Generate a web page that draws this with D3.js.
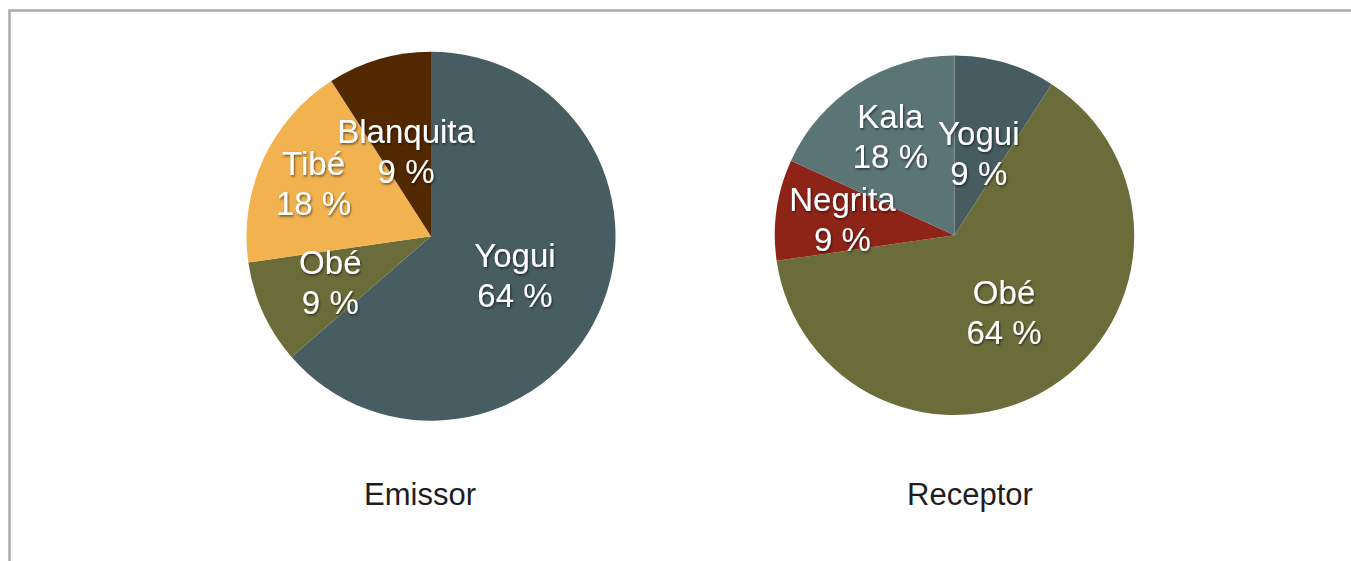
<!DOCTYPE html>
<html>
<head>
<meta charset="utf-8">
<script src="https://cdn.jsdelivr.net/npm/d3@7"></script>
<style>
  body { margin: 0; background: #fff; }
  text { font-family: "Liberation Sans", Arial, Helvetica, sans-serif; }
</style>
</head>
<body>
<div id="chart"></div>
<script>
// Data
var emissorNames = ["Yogui", "Obé", "Tibé", "Blanquita"];
var emissorValues = [7, 1, 2, 1];
var emissorColors = ["#475d61", "#6a6d3a", "#f1b24f", "#522800"];

var receptorNames = ["Yogui", "Obé", "Negrita", "Kala"];
var receptorValues = [1, 7, 1, 2];
var receptorColors = ["#465c60", "#6a6d3a", "#8e2418", "#5b7577"];

var chartTitles = ["Emissor", "Receptor"];

// Chart Params
var svgWidth = 1351;
var svgHeight = 561;

var svg = d3.select("#chart")
  .append("svg")
  .attr("width", svgWidth)
  .attr("height", svgHeight);

// drop shadow for the slice labels
var filter = svg.append("defs").append("filter")
  .attr("id", "shadow")
  .attr("x", "-20%").attr("y", "-20%")
  .attr("width", "140%").attr("height", "140%");
filter.append("feDropShadow")
  .attr("dx", 1).attr("dy", 1.5)
  .attr("stdDeviation", 1.2)
  .attr("flood-color", "#000")
  .attr("flood-opacity", 0.55);

// frame
svg.append("rect")
  .attr("x", 9.5)
  .attr("y", 10.5)
  .attr("width", svgWidth + 20)
  .attr("height", svgHeight + 20)
  .attr("fill", "none")
  .attr("stroke", "#a9a9ad")
  .attr("stroke-width", 2.5);

var pies = [
  { names: emissorNames, values: emissorValues, colors: emissorColors,
    cx: 431, cy: 236.2, r: 184.5, labelR: [0.50, 0.60, 0.70, 0.48], titleX: 420 },
  { names: receptorNames, values: receptorValues, colors: receptorColors,
    cx: 954.5, cy: 235.3, r: 179.7, labelR: [0.48, 0.51, 0.63, 0.66], titleX: 970 }
];

var pie = d3.pie().sort(null).value(d => d.value);

pies.forEach(function(p, k) {
  var total = d3.sum(p.values);
  var rows = p.names.map((n, i) => ({ name: n, value: p.values[i], color: p.colors[i], lr: p.labelR[i] }));

  var g = svg.append("g")
    .attr("transform", `translate(${p.cx}, ${p.cy})`);

  var arc = d3.arc().innerRadius(0).outerRadius(p.r);

  g.selectAll("path")
    .data(pie(rows))
    .enter()
    .append("path")
    .attr("d", arc)
    .attr("fill", d => d.data.color);

  // labels
  var labels = g.selectAll(".slice-label")
    .data(pie(rows))
    .enter()
    .append("text")
    .attr("class", "slice-label")
    .attr("text-anchor", "middle")
    .attr("fill", "#fff")
    .attr("font-size", 33)
    .attr("filter", "url(#shadow)")
    .attr("transform", function(d) {
      var rr = p.r * d.data.lr;
      var c = d3.arc().innerRadius(rr).outerRadius(rr).centroid(d);
      return `translate(${c[0]}, ${c[1]})`;
    });

  labels.append("tspan")
    .attr("x", 0)
    .attr("y", -8)
    .text(d => d.data.name);

  labels.append("tspan")
    .attr("x", 0)
    .attr("y", 32)
    .text(d => Math.round(d.data.value / total * 100) + " %");

  // title under the pie
  svg.append("text")
    .attr("x", p.titleX)
    .attr("y", 505)
    .attr("text-anchor", "middle")
    .attr("font-size", 31)
    .attr("fill", "#1e1e1e")
    .text(chartTitles[k]);
});
</script>
</body>
</html>
